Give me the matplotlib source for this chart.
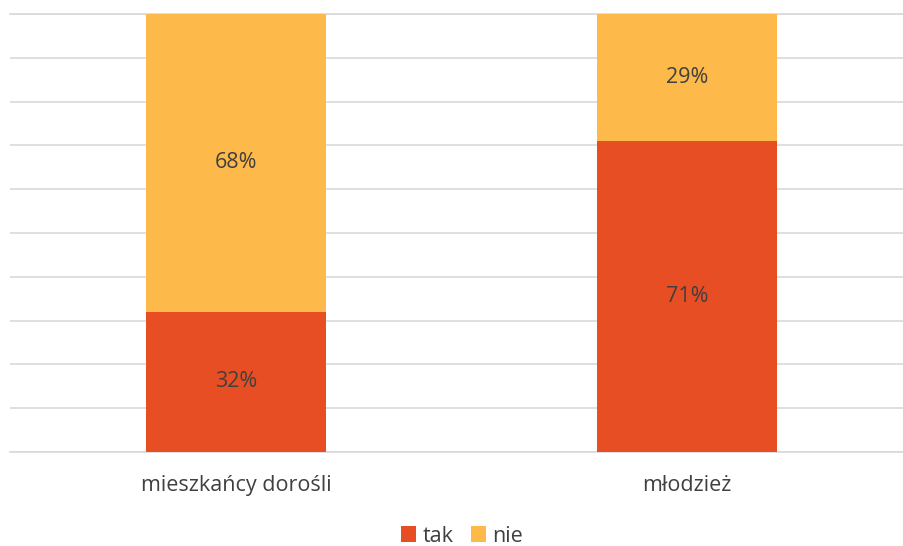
import matplotlib.pyplot as plt
import numpy as np

plt.rcParams['font.family'] = ['Open Sans', 'DejaVu Sans']

categories = ['mieszkańcy dorośli', 'młodzież']
tak = [32, 71]
nie = [68, 29]

red = '#E84E23'
yellow = '#FDBA4A'
txt = '#404040'
fs = 15.5

fig = plt.figure(figsize=(9.04, 5.46), dpi=100)
ax = fig.add_axes([10/904, 1 - 452/546, 894/904, 438/546])

x = np.arange(len(categories))
w = 0.399
b1 = ax.bar(x, tak, w, color=red, label='tak', zorder=3)
b2 = ax.bar(x, nie, w, bottom=tak, color=yellow, label='nie', zorder=3)

for i in range(len(categories)):
    ax.text(x[i], tak[i] / 2, f'{tak[i]}%', ha='center', va='center', fontsize=fs, color=txt, zorder=4)
    ax.text(x[i], tak[i] + nie[i] / 2, f'{nie[i]}%', ha='center', va='center', fontsize=fs, color=txt, zorder=4)

ax.set_xlim(-0.501, 1.481)
ax.set_ylim(0, 100)
ax.set_yticks(np.arange(0, 101, 10))
ax.yaxis.grid(True, color='#d9d9d9', linewidth=1.2, zorder=0)
ax.axhline(100, color='#d9d9d9', linewidth=1.2, zorder=0, clip_on=False)
ax.tick_params(axis='y', left=False, labelleft=False)
ax.tick_params(axis='x', bottom=False, labelsize=fs, labelcolor=txt, pad=13)
ax.set_xticks(x)
ax.set_xticklabels(categories)
for s in ['top', 'right', 'left']:
    ax.spines[s].set_visible(False)
ax.spines['bottom'].set_color('#d9d9d9')
ax.spines['bottom'].set_linewidth(1.2)

fig.legend(handles=[b1, b2], loc='center', bbox_to_anchor=(462/904, 1 - 536/546), ncol=2,
           frameon=False, fontsize=fs, labelcolor=txt, handlelength=0.7, handleheight=0.7,
           handletextpad=0.3, columnspacing=0.8)

fig.savefig('out.png', dpi=100)
